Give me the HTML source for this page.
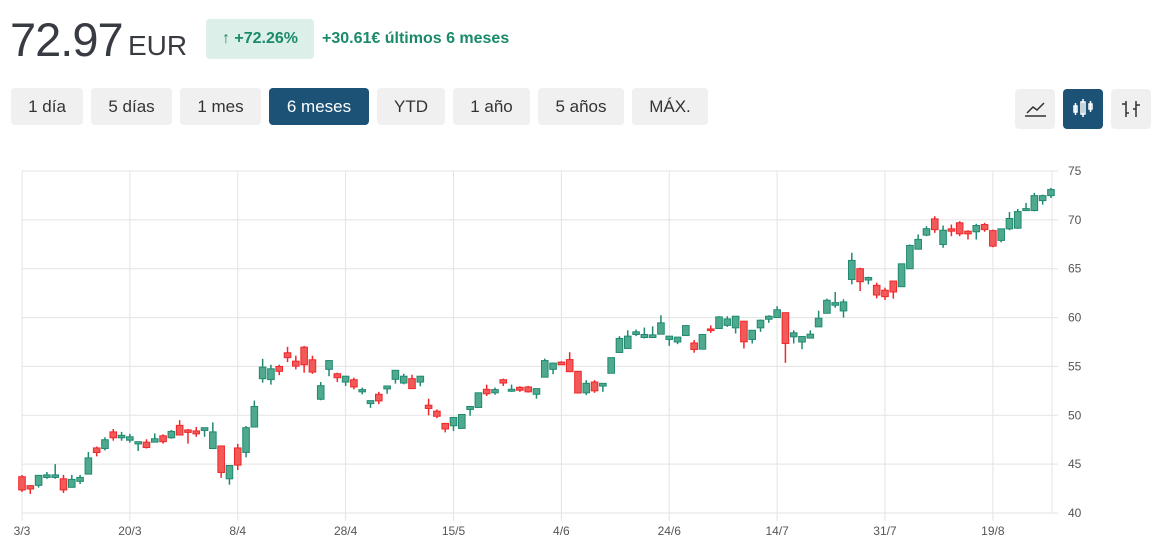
<!DOCTYPE html>
<html><head><meta charset="utf-8">
<style>
body{margin:0;width:1160px;height:548px;background:#fff;font-family:"Liberation Sans",sans-serif;overflow:hidden;position:relative}
.abs{position:absolute}
.price{left:10px;top:12px;font-size:47px;color:#383c42;letter-spacing:-1px}
.cur{left:128px;top:30px;font-size:28px;color:#383c42}
.badge{left:206px;top:19px;width:108px;height:40px;background:#dcefe9;border-radius:4px;color:#1a8a6a;font-size:16px;font-weight:bold;line-height:40px;text-align:center}
.chg{left:322px;top:30px;color:#1a8a6a;font-size:16px;font-weight:bold}
.btn{top:88px;height:37px;background:#f0f0f0;border-radius:4px;color:#333;font-size:17px;line-height:37px;text-align:center}
.btn.on{background:#1b5276;color:#fff}
.ibtn{top:89px;width:40px;height:40px;background:#f0f0f0;border-radius:4px}
.ibtn.on{background:#1b5276}
</style></head><body>
<div class="abs price">72.97</div>
<div class="abs cur">EUR</div>
<div class="abs badge">↑ +72.26%</div>
<div class="abs chg">+30.61€ últimos 6 meses</div>
<div class="abs btn" style="left:11px;width:72px">1 día</div>
<div class="abs btn" style="left:91px;width:81px">5 días</div>
<div class="abs btn" style="left:180px;width:81px">1 mes</div>
<div class="abs btn on" style="left:269px;width:100px">6 meses</div>
<div class="abs btn" style="left:377px;width:68px">YTD</div>
<div class="abs btn" style="left:453px;width:77px">1 año</div>
<div class="abs btn" style="left:538px;width:86px">5 años</div>
<div class="abs btn" style="left:632px;width:76px">MÁX.</div>
<div class="abs ibtn" style="left:1015px"><svg width="40" height="40"><polyline points="12,24 18,18 22,21 29,14" fill="none" stroke="#333" stroke-width="1.5"/><line x1="10" y1="27" x2="31" y2="27" stroke="#333" stroke-width="1.5"/></svg></div>
<div class="abs ibtn on" style="left:1063px"><svg width="40" height="40"><g stroke="#fff" stroke-width="1.5" fill="none"><rect x="11" y="17" width="3" height="6"/><line x1="12.5" y1="14" x2="12.5" y2="26"/><rect x="18" y="13" width="4" height="12"/><line x1="20" y1="10" x2="20" y2="28"/><rect x="26" y="15" width="3" height="5"/><line x1="27.5" y1="12" x2="27.5" y2="23"/></g></svg></div>
<div class="abs ibtn" style="left:1111px"><svg width="40" height="40"><g stroke="#333" stroke-width="1.5"><line x1="15" y1="12" x2="15" y2="28"/><line x1="11" y1="15" x2="15" y2="15"/><line x1="15" y1="24" x2="18" y2="24"/><line x1="25" y1="12" x2="25" y2="28"/><line x1="22" y1="20" x2="25" y2="20"/><line x1="25" y1="16" x2="29" y2="16"/></g></svg></div>
<svg id="chart" class="abs" style="left:0;top:0" width="1160" height="548"></svg>
<script>
const opens=[43.71,42.8,42.83,43.64,43.64,43.5,42.63,43.24,43.98,46.66,46.6,48.3,47.7,47.45,47.07,47.25,47.25,47.9,47.7,48.97,48.5,48.4,48.45,46.6,46.86,43.5,46.66,46.2,48.8,53.75,53.65,55,56.4,55.54,56.97,55.68,51.64,54.7,54.25,53.4,53.64,52.4,51.2,52.15,52.7,53.68,53.3,53.75,53.4,51.03,50.42,49.17,48.93,48.66,50.6,50.8,52.66,52.3,53.64,52.46,52.86,52.9,52.15,53.9,54.7,55.44,55.7,54.5,52.3,53.4,52.99,54.3,56.43,56.84,58.27,57.96,57.96,58.3,57.76,57.5,58.16,57.4,56.77,58.84,58.88,59.2,58.95,59.63,57.76,58.95,59.83,60,60.5,58.03,57.5,57.9,59.05,60.44,61.26,60.68,63.9,65,63.84,63.3,62.8,63.74,63.16,65,67,68.44,70.1,67.48,69.08,69.7,68.84,68.78,69.52,68.9,67.9,69.08,69.15,70.95,70.95,71.97,72.48];
const closes=[42.36,42.46,43.85,43.9,43.9,42.36,43.44,43.64,45.64,46.19,47.5,47.7,47.95,47.8,47.3,46.7,47.6,47.3,48.35,47.98,48.25,48.1,48.73,48.3,44.15,44.86,44.9,48.73,50.9,54.93,54.76,54.5,55.9,55.03,55.17,54.42,53.03,55.6,53.85,54,52.9,52.63,51.5,51.47,53,54.6,54,52.73,54,50.7,49.9,48.6,49.78,50.08,50.9,52.3,52.2,52.63,53.3,52.66,52.56,52.4,52.73,55.6,55.34,55.17,54.46,52.28,53.27,52.5,53.27,55.9,57.86,58.1,58.54,58.27,58.23,59.46,58.1,58,59.18,56.73,58.27,58.67,60.07,59.86,60.14,57.52,58.7,59.73,60.14,60.8,57.35,58.44,58.06,58.3,59.93,61.77,61.53,61.6,65.85,63.67,64.1,62.31,62.14,62.62,65.5,67.38,68,69.1,69,68.94,68.84,68.57,68.57,69.42,69,67.31,69.08,70.14,70.85,71.15,72.48,72.48,73.1];
const highs=[43.88,42.85,43.9,44.2,45,43.9,43.9,43.9,46.25,46.8,47.75,48.6,48.3,48.1,47.3,47.55,48.15,48.05,48.5,49.5,48.6,48.8,48.73,49.27,46.86,44.86,47.07,48.9,51.5,55.78,55.17,55.17,57,56.1,57.1,56.1,53.4,55.6,54.36,54,53.85,52.83,51.5,52.4,53,54.6,54.25,54.15,54,51.7,50.6,49.17,49.78,50.08,50.9,52.3,53.14,52.83,53.75,53.14,52.97,53,52.73,55.8,55.4,55.54,56.46,54.5,53.6,53.6,53.27,55.9,58.1,58.7,58.78,58.98,59.1,60.24,58.1,58,59.18,57.7,58.27,59.2,60.14,60.14,60.14,59.63,58.7,59.8,60.24,61.16,60.5,58.7,58.06,58.7,60.7,61.94,62.62,61.87,66.63,65.1,64.18,63.57,63.06,63.74,65.5,67.48,68.5,69.35,70.37,69.42,69.52,69.86,68.94,69.6,69.7,69,69.08,70.8,71.12,71.73,72.76,72.58,73.27];
const lows=[42.15,41.95,42.6,43.5,43.5,42.05,42.6,42.97,43.98,45.8,46.4,47.4,47.4,47.2,46.35,46.6,47.25,47.1,47.6,47.98,47.1,47.8,47.8,46.6,43.6,42.9,44.4,45.7,48.8,53.34,53.14,54.1,55.44,54.7,54.36,54.25,51.54,54,53.4,53,52.66,52.15,50.76,51.14,52.2,53.24,53.17,52.73,52.97,50,49.7,48.25,48.4,48.6,49.95,50.8,51.98,52.1,53,52.4,52.4,52.32,51.7,53.9,54.2,55.17,54.46,52.28,52.07,52.3,52.4,54.3,56.43,56.84,58.1,57.86,57.96,58.3,57.1,57.28,58.16,56.4,56.73,58.43,58.88,59.05,58.37,56.84,57.35,58.54,59.46,60,55.37,57.35,56.77,57.9,59.05,60.44,61,60,63.4,62.72,63.4,61.97,61.8,61.94,63.16,65,67,68.33,68.67,67.14,68.33,68.33,67.99,67.99,68.78,67.2,67.7,68.94,69.08,70.95,70.88,71.56,72.24];
const xLabels=["3/3","20/3","8/4","28/4","15/5","4/6","24/6","14/7","31/7","19/8"];
const xLabelIdx=[0,13,26,39,52,65,78,91,104,117];
const yTicks=[40,45,50,55,60,65,70,75];

const NS="http://www.w3.org/2000/svg";
const svg=document.getElementById('chart');
const L=22,R=1052,T=171,B=513,ymin=40,ymax=75,step=8.298;
const xs=i=>L+i*step;
const ys=v=>B-(v-ymin)/(ymax-ymin)*(B-T);
function mk(t,a,p){const e=document.createElementNS(NS,t);for(const k in a)e.setAttribute(k,a[k]);(p||svg).appendChild(e);return e;}
const grid=mk('g',{});


yTicks.forEach(v=>{
  const y=ys(v);
  const l=mk('line',{x1:L,x2:R+6,y1:y,y2:y,stroke:'#e3e3e3','stroke-width':1},grid);
  
  
  const t=mk('text',{x:1068,y:y+4,'font-size':12,fill:'#555','font-family':'Liberation Sans, sans-serif'});
  t.textContent=v;
  
  
});
xLabels.forEach((s,k)=>{
  const x=xs(xLabelIdx[k]);
  const l=mk('line',{x1:x,x2:x,y1:T,y2:B+8,stroke:'#e3e3e3','stroke-width':1},grid);
  
  
  const t=mk('text',{x:x,y:535,'font-size':12,fill:'#555','text-anchor':'middle','font-family':'Liberation Sans, sans-serif'});
  t.textContent=s;
  
  
});
const rb=mk('line',{x1:R,x2:R,y1:T,y2:B,stroke:'#e3e3e3'},grid);


opens.forEach((o,i)=>{
  const c=closes[i],up=c>=o,col=up?'#1f8a70':'#f0262a',fill=up?'#4fa98f':'#f25a5a';
  const g=mk('g',{});
  
  
  const x=xs(i);
  mk('line',{x1:x,x2:x,y1:ys(highs[i]),y2:ys(lows[i]),stroke:col,'stroke-width':1.5},g);
  const top=ys(Math.max(o,c)),h=Math.max(1.5,ys(Math.min(o,c))-top);
  mk('rect',{x:x-3.3,y:top,width:6.6,height:h,fill:fill,stroke:col,'stroke-width':1},g);
});
</script>
</body></html>
